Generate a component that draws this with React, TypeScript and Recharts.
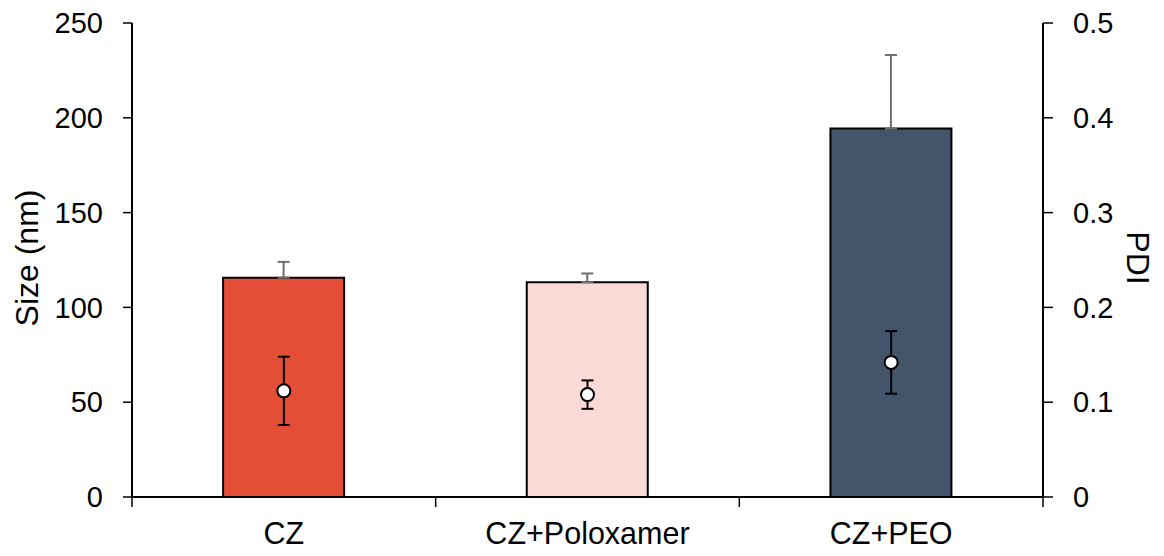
import React from 'react';
import { ComposedChart, Bar, Line, XAxis, YAxis, ErrorBar, Cell, Label } from 'recharts';

document.body.style.margin = '0';

const categories = ['CZ', 'CZ+Poloxamer', 'CZ+PEO'];
const sizeValues = [115.7, 113.3, 194.3];
const sizeErrors = [8.3, 4.6, 38.8];
const pdiValues = [0.112, 0.108, 0.142];
const pdiErrors = [0.036, 0.015, 0.033];
const barColors = ['#E54E36', '#F9DAD7', '#44546A'];
const sizeTicks = [0, 50, 100, 150, 200, 250];
const pdiTicks = [0, 0.1, 0.2, 0.3, 0.4, 0.5];

const data = categories.map((name, i) => ({
  name,
  size: sizeValues[i],
  sizeErr: [0, sizeErrors[i]],
  pdi: pdiValues[i],
  pdiErr: pdiErrors[i],
}));

const FONT = 'Liberation Sans, Arial, Helvetica, sans-serif';
const TICK_FS = 29;
const CAT_FS = 30.5;
const TITLE_FS = 32;

const CategoryTick = (props: any) => {
  const { x, y, payload, index } = props;
  const half = payload && payload.offset ? payload.offset : 0;
  return (
    <g>
      <line x1={x - half} y1={y} x2={x - half} y2={y + 10} stroke="#000" strokeWidth={1.5} />
      {index === categories.length - 1 && (
        <line x1={x + half} y1={y} x2={x + half} y2={y + 10} stroke="#000" strokeWidth={1.5} />
      )}
      <text x={x} y={y + 47} textAnchor="middle" fontSize={CAT_FS} fontFamily={FONT} fill="#000">
        {payload.value}
      </text>
    </g>
  );
};

const SizeLabel = (props: any) => {
  const vb = props.viewBox || { x: 0, y: 23, width: 132, height: 474 };
  const cx = vb.x + 27;
  const cy = vb.y + vb.height / 2 - 2;
  return (
    <text x={cx} y={cy} transform={`rotate(-90 ${cx} ${cy})`} textAnchor="middle" dominantBaseline="central" fontSize={TITLE_FS} fontFamily={FONT} fill="#000">
      Size (nm)
    </text>
  );
};

const PdiLabel = (props: any) => {
  const vb = props.viewBox || { x: 1043, y: 23, width: 121, height: 474 };
  const cx = vb.x + 95;
  const cy = vb.y + vb.height / 2 - 2;
  return (
    <text x={cx} y={cy} transform={`rotate(90 ${cx} ${cy})`} textAnchor="middle" dominantBaseline="central" fontSize={TITLE_FS} fontFamily={FONT} fill="#000">
      PDI
    </text>
  );
};

export default function App() {
  return (
    <ComposedChart
      width={1164}
      height={556}
      data={data}
      margin={{ top: 23, right: 0, bottom: 0, left: 0 }}
      barCategoryGap="30%"
      style={{ fontFamily: FONT }}
    >
      <XAxis
        dataKey="name"
        height={59}
        tickLine={false}
        tickSize={0}
        tickMargin={0}
        axisLine={{ stroke: '#000', strokeWidth: 2 }}
        tick={<CategoryTick />}
        interval={0}
      />
      <YAxis
        yAxisId="left"
        orientation="left"
        width={132}
        domain={[0, 250]}
        ticks={sizeTicks}
        tickSize={9}
        tickMargin={20}
        axisLine={{ stroke: '#000', strokeWidth: 2 }}
        tickLine={{ stroke: '#000', strokeWidth: 1.5 }}
        tick={{ fontSize: TICK_FS, fill: '#000', fontFamily: FONT }}
      >
        <Label content={<SizeLabel />} />
      </YAxis>
      <YAxis
        yAxisId="right"
        orientation="right"
        width={121}
        domain={[0, 0.5]}
        ticks={pdiTicks}
        tickSize={10}
        tickMargin={20}
        tickFormatter={(v: number) => String(v)}
        axisLine={{ stroke: '#000', strokeWidth: 2 }}
        tickLine={{ stroke: '#000', strokeWidth: 1.5 }}
        tick={{ fontSize: TICK_FS, fill: '#000', fontFamily: FONT }}
      >
        <Label content={<PdiLabel />} />
      </YAxis>
      <Bar yAxisId="left" dataKey="size" stroke="#000" strokeWidth={2} isAnimationActive={false}>
        {data.map((d, i) => (
          <Cell key={d.name} fill={barColors[i]} />
        ))}
        <ErrorBar dataKey="sizeErr" width={6} stroke="#6e6e6e" strokeWidth={2} />
      </Bar>
      <Line
        yAxisId="right"
        dataKey="pdi"
        stroke="none"
        strokeWidth={0}
        isAnimationActive={false}
        activeDot={false}
        dot={{ r: 6.5, fill: '#fff', stroke: '#000', strokeWidth: 2 }}
      >
        <ErrorBar dataKey="pdiErr" width={6} stroke="#000" strokeWidth={2} />
      </Line>
    </ComposedChart>
  );
}
